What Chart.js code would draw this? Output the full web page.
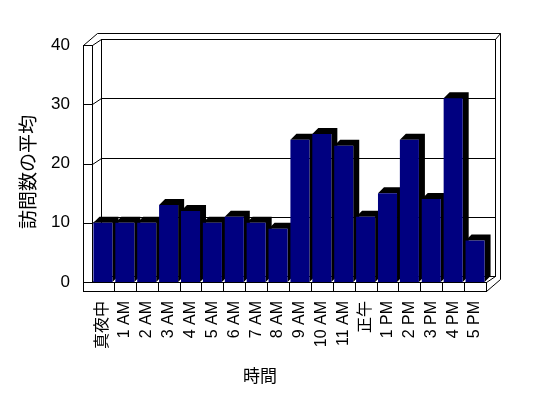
<!DOCTYPE html>
<html>
<head>
<meta charset="utf-8">
<script src="https://cdn.jsdelivr.net/npm/chart.js@4"></script>
<style>
  body { margin: 0; background: #fff; }
</style>
</head>
<body>
<canvas id="visits_chart" width="548" height="398"></canvas>
<script>
var hours = ['真夜中', '1 AM', '2 AM', '3 AM', '4 AM', '5 AM', '6 AM', '7 AM', '8 AM',
    '9 AM', '10 AM', '11 AM', '正午', '1 PM', '2 PM', '3 PM', '4 PM', '5 PM'];
var avgVisits = [10, 10, 10, 13, 12, 10, 11, 10, 9, 24, 25, 23, 11, 15, 24, 14, 31, 7];
var yTicks = [0, 10, 20, 30, 40];

var FONT = "'Liberation Sans', 'Noto Sans CJK JP', sans-serif";

// wall depth (inner), extra for the back wall slab, and bar depth
var DX = 9, DY = -6;
var EX = 5, EY = -6.5;
var WALL = 9;
var BX = 6, BY = -6;

// snap to pixel centres so the 1px lines stay sharp
function p(v) {
    return Math.round(v) + 0.5;
}

function line(ctx, x1, y1, x2, y2) {
    ctx.beginPath();
    ctx.moveTo(p(x1), p(y1));
    ctx.lineTo(p(x2), p(y2));
    ctx.stroke();
}

function rect(ctx, x, y, w, h) {
    ctx.fillRect(Math.round(x), Math.round(y), Math.round(w), Math.round(h));
    ctx.strokeRect(p(x), p(y), Math.round(w), Math.round(h));
}

var box3d = {
    id: 'box3d',
    beforeDatasetsDraw: function(chart) {
        var ctx = chart.ctx;
        var x = chart.scales.x, y = chart.scales.y;
        var l = x.left, r = x.right;
        var top = y.getPixelForValue(yTicks[yTicks.length - 1]);
        var base = y.getPixelForValue(0);
        ctx.save();
        ctx.strokeStyle = '#000';
        ctx.lineWidth = 1;
        ctx.fillStyle = '#fff';

        // back wall
        rect(ctx, l + DX, top + DY, r - l, base - top);
        line(ctx, l - WALL + DX + EX, top + DY + EY, r + DX + EX, top + DY + EY);
        line(ctx, r + DX, top + DY, r + DX + EX, top + DY + EY);
        line(ctx, r + DX + EX, top + DY + EY, r + DX + EX, base + WALL + DY + EY);

        // grid lines
        yTicks.forEach(function(v) {
            var yf = y.getPixelForValue(v);
            line(ctx, l + DX, yf + DY, r + DX, yf + DY);
            line(ctx, l, yf, l + DX, yf + DY);
            line(ctx, l - WALL, yf, l, yf);
        });

        // left wall
        ctx.fillStyle = 'rgba(0,0,0,0)';
        rect(ctx, l - WALL, top, WALL, base + WALL - top);
        line(ctx, l - WALL, top, l - WALL + DX + EX, top + DY + EY);

        // floor
        ctx.fillStyle = '#fff';
        rect(ctx, l - WALL, base, r - l + WALL, WALL);
        for (var i = 0; i < hours.length; i++) {
            var bx = x.getPixelForValue(i + 0.5);
            line(ctx, bx, base, bx, base + WALL);
        }
        line(ctx, r, base, r + DX, base + DY);
        line(ctx, r, base + WALL, r + DX + EX, base + WALL + DY + EY);

        // bar tops and sides
        ctx.fillStyle = '#000';
        chart.getDatasetMeta(0).data.forEach(function(bar) {
            var bl = bar.x - bar.width / 2, br = bar.x + bar.width / 2;
            ctx.beginPath();
            ctx.moveTo(bl, bar.y);
            ctx.lineTo(bl + BX, bar.y + BY);
            ctx.lineTo(br + BX, bar.y + BY);
            ctx.lineTo(br + BX, bar.base + BY);
            ctx.lineTo(br, bar.base);
            ctx.lineTo(br, bar.y);
            ctx.closePath();
            ctx.fill();
        });
        ctx.restore();
    },
    afterDraw: function(chart) {
        // axis titles, placed where the original puts them (not centred on the axes)
        var ctx = chart.ctx;
        ctx.save();
        ctx.fillStyle = '#000';
        ctx.textAlign = 'center';
        ctx.textBaseline = 'middle';
        ctx.font = '17px ' + FONT;
        ctx.fillText('時間', 260, 377);
        ctx.translate(30, 172);
        ctx.rotate(-Math.PI / 2);
        ctx.font = '19px ' + FONT;
        ctx.fillText('訪問数の平均', 0, 0);
        ctx.restore();
    }
};

var ctx = document.getElementById('visits_chart').getContext('2d');
var myChart = new Chart(ctx, {
    type: 'bar',
    data: {
        labels: hours,
        datasets: [{
            label: '訪問数の平均',
            data: avgVisits,
            backgroundColor: '#000080',
            borderWidth: 0,
            categoryPercentage: 1,
            barPercentage: 0.87
        }]
    },
    options: {
        responsive: false,
        animation: false,
        layout: {
            padding: { left: 0, right: 62, top: 45, bottom: 0 }
        },
        plugins: {
            legend: { display: false },
            tooltip: { enabled: false }
        },
        scales: {
            x: {
                grid: { display: false, drawTicks: false },
                border: { display: false },
                ticks: {
                    color: '#000',
                    font: { family: FONT, size: 16 },
                    autoSkip: false,
                    minRotation: 90,
                    maxRotation: 90,
                    padding: 19
                },
                afterFit: function(scale) { scale.height = 116; }
            },
            y: {
                min: 0,
                max: 40,
                grid: { display: false, drawTicks: false },
                border: { display: false },
                ticks: {
                    stepSize: 10,
                    color: '#000',
                    font: { family: FONT, size: 17 },
                    padding: 22
                },
                afterFit: function(scale) { scale.width = 92; }
            }
        }
    },
    plugins: [box3d]
});
</script>
</body>
</html>
